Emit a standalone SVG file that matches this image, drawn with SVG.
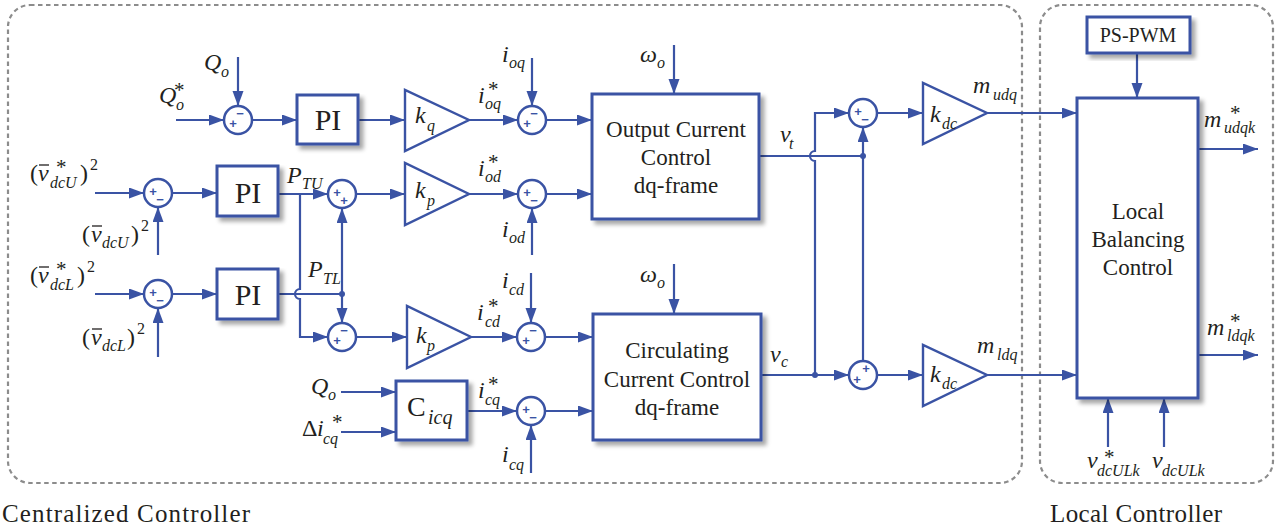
<svg xmlns="http://www.w3.org/2000/svg" width="1284" height="530" viewBox="0 0 1284 530">
<style>
.frame{fill:none;stroke:#8c8c8c;stroke-width:2.2;stroke-dasharray:4.5 3.5}
.blk{fill:#fff;stroke:#3a53a4;stroke-width:3}
.tri{fill:#fff;stroke:#3a53a4;stroke-width:2.4;stroke-linejoin:miter}
.sum{fill:#fff;stroke:#3a53a4;stroke-width:2.5}
.w{fill:none;stroke:#3a53a4;stroke-width:2.2}
.a{marker-end:url(#ah)}
.dot{fill:#3a53a4}
.sg{font-family:"Liberation Sans",Arial,sans-serif;font-size:13px;font-weight:bold;fill:#3a53a4;text-anchor:middle;dominant-baseline:central}
.t{font-family:"Liberation Serif","Times New Roman",serif;fill:#231f20}
.bt{font-size:23px;text-anchor:middle}
.pi{font-size:30px;text-anchor:middle}
.m{font-style:italic;font-size:24px}
.n{font-style:normal;font-size:24px}
.s{font-style:italic;font-size:16px}
.st{font-style:normal;font-size:21px}
.sp{font-style:normal;font-size:16px}
.bar{stroke:#231f20;stroke-width:1.3}
.cap{font-size:25px}
</style>
<defs>
<marker id="ah" markerUnits="userSpaceOnUse" markerWidth="16" markerHeight="12" refX="15" refY="5.5" orient="auto">
<path d="M0,0 L15,5.5 L0,11 z" fill="#3a53a4"/>
</marker>
<filter id="sh" x="-10%" y="-10%" width="130%" height="130%">
<feGaussianBlur in="SourceAlpha" stdDeviation="2"/>
<feOffset dx="4" dy="4" result="b"/>
<feFlood flood-color="#000" flood-opacity="0.35"/>
<feComposite in2="b" operator="in" result="s"/>
<feMerge><feMergeNode in="s"/><feMergeNode in="SourceGraphic"/></feMerge>
</filter>
</defs>
<rect width="1284" height="530" fill="#fff"/>

<g id="frames">
<rect class="frame" x="8" y="5" width="1014" height="478" rx="22"/>
<rect class="frame" x="1040" y="5" width="233" height="478" rx="22"/>
<text class="t cap" x="2" y="522" textLength="248">Centralized Controller</text>
<text class="t cap" x="1050" y="522" textLength="172">Local Controller</text>
</g>

<g id="connectors">
<path class="w a" d="M176,120 H224"/>
<path class="w a" d="M238,57 V106"/>
<path class="w a" d="M252,120 H297"/>
<path class="w a" d="M358,120 H405"/>
<path class="w a" d="M469,120 H518"/>
<path class="w a" d="M532,58 V106"/>
<path class="w a" d="M546,120 H592"/>

<path class="w a" d="M95,193 H144"/>
<path class="w a" d="M158,255 V207"/>
<path class="w a" d="M172,193 H217"/>
<path class="w a" d="M278,194 H328"/>
<path class="w a" d="M300,194 V289 A5,5 0 0 0 300,299 V337 H328"/>
<path class="w a" d="M95,294 H144"/>
<path class="w a" d="M158,357 V308"/>
<path class="w a" d="M172,294 H217"/>
<path class="w" d="M278,294 H342"/>
<path class="w a" d="M342,294 V208"/>
<path class="w a" d="M342,294 V323"/>
<path class="w a" d="M356,194 H405"/>
<path class="w a" d="M469,194 H518"/>
<path class="w a" d="M532,255 V208"/>
<path class="w a" d="M546,194 H592"/>

<path class="w a" d="M356,337 H407"/>
<path class="w a" d="M471,337 H517"/>
<path class="w a" d="M531,273 V323"/>
<path class="w a" d="M545,337 H593"/>

<path class="w a" d="M341,392 H396"/>
<path class="w a" d="M341,432 H396"/>
<path class="w a" d="M467,411 H517"/>
<path class="w a" d="M531,473 V425"/>
<path class="w a" d="M545,411 H593"/>

<path class="w a" d="M674,45 V94"/>
<path class="w a" d="M674,264 V314"/>

<path class="w" d="M759,156 H863"/>
<path class="w a" d="M815,375 V161 A5,5 0 0 1 815,151 V113 H849"/>
<path class="w a" d="M761,375 H849"/>
<path class="w a" d="M863,361 V127"/>
<path class="w a" d="M877,113 H923"/>
<path class="w a" d="M987,113 H1077"/>
<path class="w a" d="M877,375 H923"/>
<path class="w a" d="M987,375 H1077"/>
<path class="w a" d="M1137,53 V98"/>
<path class="w a" d="M1198,149 H1258"/>
<path class="w a" d="M1198,355 H1258"/>
<path class="w a" d="M1108,447 V398"/>
<path class="w a" d="M1164,447 V398"/>

<circle class="dot" cx="342" cy="294" r="3"/>
<circle class="dot" cx="863" cy="156" r="3"/>
<circle class="dot" cx="815" cy="375" r="3"/>
</g>

<g id="sum-q">
<circle class="sum" cx="238" cy="120" r="14"/>
<text class="sg" x="233" y="123">+</text><text class="sg" x="240" y="113">−</text>
</g>
<g id="sum-dcU">
<circle class="sum" cx="158" cy="193" r="14"/>
<text class="sg" x="153" y="191">+</text><text class="sg" x="160" y="199">−</text>
</g>
<g id="sum-dcL">
<circle class="sum" cx="158" cy="294" r="14"/>
<text class="sg" x="153" y="292">+</text><text class="sg" x="160" y="300">−</text>
</g>
<g id="sum-pu">
<circle class="sum" cx="342" cy="194" r="14"/>
<text class="sg" x="337" y="192">+</text><text class="sg" x="344" y="200">+</text>
</g>
<g id="sum-pl">
<circle class="sum" cx="342" cy="337" r="14"/>
<text class="sg" x="337" y="340">+</text><text class="sg" x="344" y="330">−</text>
</g>
<g id="sum-oq">
<circle class="sum" cx="532" cy="120" r="14"/>
<text class="sg" x="527" y="123">+</text><text class="sg" x="534" y="113">−</text>
</g>
<g id="sum-od">
<circle class="sum" cx="532" cy="194" r="14"/>
<text class="sg" x="527" y="192">+</text><text class="sg" x="534" y="200">−</text>
</g>
<g id="sum-cd">
<circle class="sum" cx="531" cy="337" r="14"/>
<text class="sg" x="526" y="340">+</text><text class="sg" x="533" y="330">−</text>
</g>
<g id="sum-cq">
<circle class="sum" cx="531" cy="411" r="14"/>
<text class="sg" x="526" y="409">+</text><text class="sg" x="533" y="417">−</text>
</g>
<g id="sum-u">
<circle class="sum" cx="863" cy="113" r="14"/>
<text class="sg" x="858" y="111">+</text><text class="sg" x="865" y="119">−</text>
</g>
<g id="sum-l">
<circle class="sum" cx="863" cy="375" r="14"/>
<text class="sg" x="857" y="379">+</text><text class="sg" x="866" y="368">+</text>
</g>

<g id="pi-q">
<rect class="blk" filter="url(#sh)" x="297" y="95" width="61" height="49"/>
<text class="t pi" x="328" y="130">PI</text>
</g>
<g id="pi-u">
<rect class="blk" filter="url(#sh)" x="217" y="166" width="61" height="50"/>
<text class="t pi" x="248" y="203">PI</text>
</g>
<g id="pi-l">
<rect class="blk" filter="url(#sh)" x="217" y="269" width="61" height="50"/>
<text class="t pi" x="248" y="305">PI</text>
</g>
<g id="kq">
<polygon class="tri" points="405,90 405,151 469,120"/>
<text class="t"><tspan class="m" x="415" y="123">k</tspan><tspan class="s" x="427" y="131">q</tspan></text>
</g>
<g id="kp-u">
<polygon class="tri" points="405,163 405,225 469,194"/>
<text class="t"><tspan class="m" x="415" y="198">k</tspan><tspan class="s" x="427" y="206">p</tspan></text>
</g>
<g id="kp-l">
<polygon class="tri" points="407,306 407,368 471,337"/>
<text class="t"><tspan class="m" x="416" y="343">k</tspan><tspan class="s" x="427" y="351">p</tspan></text>
</g>
<g id="cicq">
<rect class="blk" filter="url(#sh)" x="396" y="381" width="71" height="59"/>
<text class="t"><tspan class="n" x="407" y="416" style="font-size:28px">C</tspan><tspan class="s" x="428" y="424" style="font-size:20px">icq</tspan></text>
</g>
<g id="occ">
<rect class="blk" filter="url(#sh)" x="592" y="94" width="167" height="125"/>
<text class="t bt" x="676" y="137">Output Current</text>
<text class="t bt" x="676" y="165">Control</text>
<text class="t bt" x="676" y="193">dq-frame</text>
</g>
<g id="ccc">
<rect class="blk" filter="url(#sh)" x="593" y="314" width="168" height="126"/>
<text class="t bt" x="677" y="358">Circulating</text>
<text class="t bt" x="677" y="387">Current Control</text>
<text class="t bt" x="677" y="415">dq-frame</text>
</g>
<g id="kdc-u">
<polygon class="tri" points="923,83 923,144 987,113"/>
<text class="t"><tspan class="m" x="930" y="122">k</tspan><tspan class="s" x="942" y="129">dc</tspan></text>
</g>
<g id="kdc-l">
<polygon class="tri" points="923,345 923,406 987,375"/>
<text class="t"><tspan class="m" x="930" y="382">k</tspan><tspan class="s" x="942" y="389">dc</tspan></text>
</g>
<g id="pspwm">
<rect class="blk" filter="url(#sh)" x="1087" y="17" width="103" height="36"/>
<text class="t" x="1138" y="42" style="font-size:20px;text-anchor:middle">PS-PWM</text>
</g>
<g id="lbc">
<rect class="blk" filter="url(#sh)" x="1077" y="98" width="121" height="300"/>
<text class="t bt" x="1138" y="219">Local</text>
<text class="t bt" x="1138" y="247">Balancing</text>
<text class="t bt" x="1138" y="275">Control</text>
</g>

<g id="labels">
<text class="t"><tspan class="m" x="159" y="103">Q</tspan><tspan class="s" x="176" y="110">o</tspan><tspan class="st" x="174" y="97">*</tspan></text>
<text class="t"><tspan class="m" x="204" y="70">Q</tspan><tspan class="s" x="221" y="77">o</tspan></text>

<text class="t"><tspan class="n" x="30" y="181">(</tspan><tspan class="m" x="38" y="181">v</tspan><tspan class="st" x="56" y="174">*</tspan><tspan class="s" x="50" y="188">dcU</tspan><tspan class="n" x="80" y="181">)</tspan><tspan class="sp" x="90" y="170">2</tspan></text>
<line class="bar" x1="39" y1="165" x2="49" y2="165"/>
<text class="t"><tspan class="n" x="82" y="242">(</tspan><tspan class="m" x="91" y="242">v</tspan><tspan class="s" x="102" y="248">dcU</tspan><tspan class="n" x="131" y="242">)</tspan><tspan class="sp" x="141" y="231">2</tspan></text>
<line class="bar" x1="92" y1="226" x2="102" y2="226"/>
<text class="t"><tspan class="n" x="30" y="283">(</tspan><tspan class="m" x="38" y="283">v</tspan><tspan class="st" x="56" y="276">*</tspan><tspan class="s" x="50" y="290">dcL</tspan><tspan class="n" x="77" y="283">)</tspan><tspan class="sp" x="87" y="272">2</tspan></text>
<line class="bar" x1="39" y1="267" x2="49" y2="267"/>
<text class="t"><tspan class="n" x="82" y="345">(</tspan><tspan class="m" x="91" y="345">v</tspan><tspan class="s" x="102" y="351">dcL</tspan><tspan class="n" x="127" y="345">)</tspan><tspan class="sp" x="137" y="334">2</tspan></text>
<line class="bar" x1="92" y1="329" x2="102" y2="329"/>

<text class="t"><tspan class="m" x="287" y="183">P</tspan><tspan class="s" x="302" y="189">TU</tspan></text>
<text class="t"><tspan class="m" x="308" y="277">P</tspan><tspan class="s" x="323" y="284">TL</tspan></text>

<text class="t"><tspan class="m" x="478" y="103">i</tspan><tspan class="s" x="485" y="109">oq</tspan><tspan class="st" x="488" y="96">*</tspan></text>
<text class="t"><tspan class="m" x="502" y="62">i</tspan><tspan class="s" x="509" y="68">oq</tspan></text>
<text class="t"><tspan class="m" x="478" y="176">i</tspan><tspan class="s" x="485" y="182">od</tspan><tspan class="st" x="488" y="169">*</tspan></text>
<text class="t"><tspan class="m" x="502" y="237">i</tspan><tspan class="s" x="509" y="243">od</tspan></text>
<text class="t"><tspan class="m" x="502" y="288">i</tspan><tspan class="s" x="509" y="295">cd</tspan></text>
<text class="t"><tspan class="m" x="477" y="320">i</tspan><tspan class="s" x="485" y="327">cd</tspan><tspan class="st" x="488" y="313">*</tspan></text>

<text class="t"><tspan class="m" x="311" y="394">Q</tspan><tspan class="s" x="328" y="400">o</tspan></text>
<text class="t"><tspan class="n" x="302" y="436">Δ</tspan><tspan class="m" x="317" y="436">i</tspan><tspan class="s" x="323" y="444">cq</tspan><tspan class="st" x="332" y="429">*</tspan></text>
<text class="t"><tspan class="m" x="478" y="398">i</tspan><tspan class="s" x="485" y="405">cq</tspan><tspan class="st" x="488" y="391">*</tspan></text>
<text class="t"><tspan class="m" x="502" y="462">i</tspan><tspan class="s" x="509" y="470">cq</tspan></text>

<text class="t"><tspan class="m" x="640" y="62">ω</tspan><tspan class="s" x="657" y="68">o</tspan></text>
<text class="t"><tspan class="m" x="640" y="282">ω</tspan><tspan class="s" x="657" y="288">o</tspan></text>

<text class="t"><tspan class="m" x="780" y="142">v</tspan><tspan class="s" x="789" y="149">t</tspan></text>
<text class="t"><tspan class="m" x="770" y="362">v</tspan><tspan class="s" x="781" y="367">c</tspan></text>

<text class="t"><tspan class="m" x="973" y="93">m</tspan><tspan class="s" x="993" y="100">udq</tspan></text>
<text class="t"><tspan class="m" x="977" y="353">m</tspan><tspan class="s" x="997" y="360">ldq</tspan></text>
<text class="t"><tspan class="m" x="1204" y="127">m</tspan><tspan class="s" x="1224" y="133">udqk</tspan><tspan class="st" x="1230" y="120">*</tspan></text>
<text class="t"><tspan class="m" x="1207" y="335">m</tspan><tspan class="s" x="1227" y="341">ldqk</tspan><tspan class="st" x="1230" y="328">*</tspan></text>

<text class="t"><tspan class="m" x="1087" y="468">v</tspan><tspan class="s" x="1097" y="476">dcULk</tspan><tspan class="st" x="1104" y="464">*</tspan></text>
<text class="t"><tspan class="m" x="1152" y="468">v</tspan><tspan class="s" x="1162" y="476">dcULk</tspan></text>
</g>
</svg>
